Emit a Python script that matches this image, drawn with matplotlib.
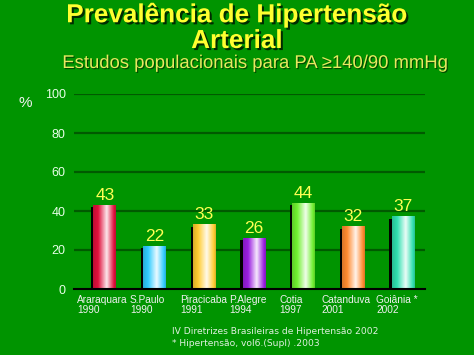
import numpy as np
import matplotlib
matplotlib.use('Agg')
import matplotlib.pyplot as plt
import matplotlib.patheffects as pe
from matplotlib.colors import to_rgb

cities = ['Araraquara\n1990', 'S.Paulo\n1990', 'Piracicaba\n1991', 'P.Alegre\n1994',
          'Cotia\n1997', 'Catanduva\n2001', 'Goiânia *\n2002']
values = [43, 22, 33, 26, 44, 32, 37]
colors = ['#e0103c', '#30ccff', '#ffcc30', '#9a1ee0', '#70f030', '#ff8a30', '#30e0b0']
yticks = [0, 20, 40, 60, 80, 100]

bg = '#009400'
plt.rcParams['font.family'] = ['Liberation Sans', 'DejaVu Sans']

fig = plt.figure(figsize=(4.74, 3.55), dpi=100, facecolor=bg)
ax = fig.add_axes([74/474, 1-289/355, (425-74)/474, (289-94)/355])
ax.set_facecolor(bg)

w = 0.46
t = np.linspace(0, 1, 60)
# cylinder-like shading: colour at edges, white highlight right of centre
mix = np.interp(t, [0, 0.22, 0.6, 0.92, 1], [-0.15, 0, 0.9, 0, -0.15])
for i, (v, c) in enumerate(zip(values, colors)):
    base = np.array(to_rgb(c))
    img = np.empty((1, len(t), 3))
    for k, m in enumerate(mix):
        if m >= 0:
            img[0, k] = base + (1 - base) * m
        else:
            img[0, k] = base * (1 + m)
    ax.bar(i - 0.045, v - 1, width=w, color='black', zorder=2)
    ax.imshow(img, extent=(i - w/2, i + w/2, 0, v), aspect='auto', zorder=3,
              interpolation='bilinear')
    ax.text(i, v + 1.3, str(v), ha='center', va='bottom', color='#ffff55',
            fontsize=12.5, zorder=4)

ax.set_xlim(-0.62, 6.44)
ax.set_ylim(0, 100)
ax.set_yticks(yticks)
ax.set_yticklabels([str(y) for y in yticks], color='#e8ffe8', fontsize=9)
ax.tick_params(axis='y', length=0, pad=6)
ax.set_xticks([])
for y in yticks[1:]:
    ax.axhline(y, color='#005a00', lw=1.6, zorder=1)
for s in ['top', 'right', 'left']:
    ax.spines[s].set_visible(False)
ax.spines['bottom'].set_color('black')
ax.spines['bottom'].set_linewidth(1.5)
ax.spines['bottom'].set_zorder(5)

label_x = [77, 130, 180, 229, 279, 321, 376]
for lx, name in zip(label_x, cities):
    fig.text(lx/474, 1-295/355, name, color='#f0f0f0', fontsize=7.3, ha='left',
             va='top', linespacing=1.05)

fig.text(25/474, 1-103/355, '%', color='#f0f0f0', fontsize=11, ha='center', va='center')

shadow = [pe.withSimplePatchShadow(offset=(1.5, -1.5), shadow_rgbFace='black', alpha=0.7)]
fig.text(0.5, 1-15/355, 'Prevalência de Hipertensão', color='#ffff30', fontsize=18.8,
         fontweight='bold', ha='center', va='center', path_effects=shadow)
fig.text(0.5, 1-41/355, 'Arterial', color='#ffff30', fontsize=18.8,
         fontweight='bold', ha='center', va='center', path_effects=shadow)
fig.text(255/474, 1-63.5/355, 'Estudos populacionais para PA ≥140/90 mmHg', color='#e8e860',
         fontsize=13.3, ha='center', va='center',
         path_effects=[pe.withSimplePatchShadow(offset=(0.8, -0.8), shadow_rgbFace='black', alpha=0.5)])

fig.text(172/474, 1-331/355, 'IV Diretrizes Brasileiras de Hipertensão 2002', color='#e0f0e0',
         fontsize=6.6, ha='left', va='center', family=['DejaVu Sans'])
fig.text(172/474, 1-344/355, '* Hipertensão, vol6.(Supl) .2003', color='#e0f0e0',
         fontsize=6.6, ha='left', va='center', family=['DejaVu Sans'])

fig.savefig('out.png', dpi=100, facecolor=bg)
